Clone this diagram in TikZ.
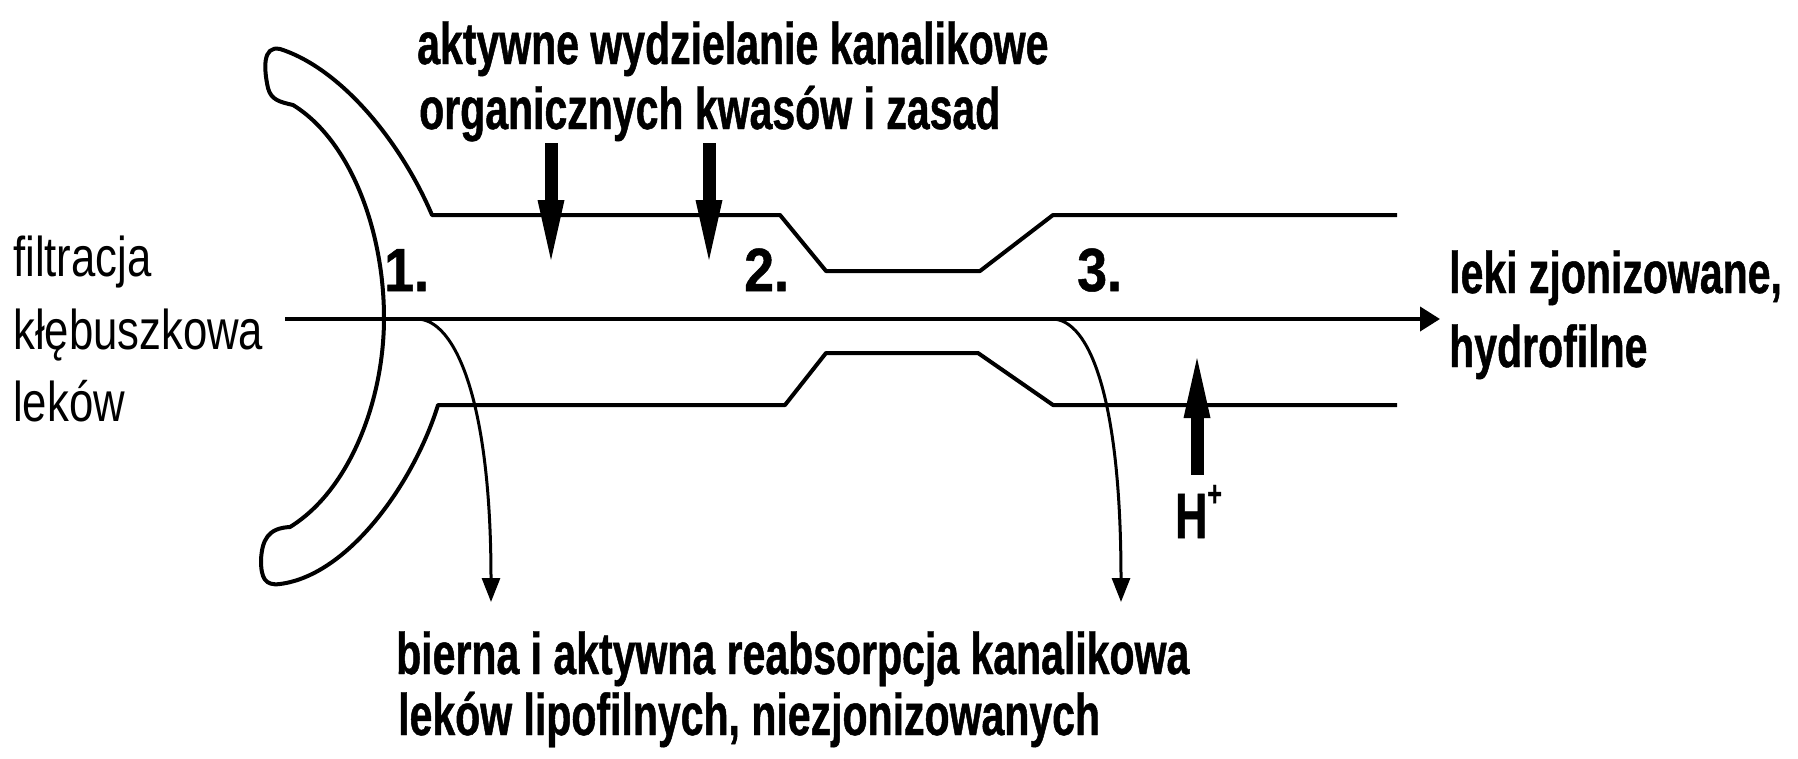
\documentclass[tikz,border=0pt]{standalone}
\usepackage{fontspec}
\setmainfont{Liberation Sans}
\newfontfamily\condbold[FakeStretch=0.695, BoldFeatures={FakeBold=0.8}]{Liberation Sans}
\newfontfamily\condnum[FakeStretch=0.88, BoldFeatures={FakeBold=0.8}]{Liberation Sans}
\newfontfamily\condreg[FakeStretch=0.78]{Liberation Sans}
\usetikzlibrary{arrows.meta}

\tikzset{
  fatarrow/.pic={
    \fill (-6.5,0) rectangle (6.5,58);
    \fill (-13.5,57) -- (13.5,57) -- (0,117) -- cycle;
  }
}

\begin{document}
\begin{tikzpicture}[x=1pt,y=-1pt,
  wall/.style={line width=4pt, line join=round},
  flow/.style={line width=4pt, -{Triangle[length=20pt,width=24pt]}},
  reabs/.style={line width=3pt, -{Triangle[length=24pt,width=18pt]}},
  boldlabel/.style={anchor=base west, inner sep=0pt,
    font=\condbold\bfseries\fontsize{59}{64}\selectfont},
  reglabel/.style={anchor=base west, inner sep=0pt,
    font=\condreg\fontsize{56}{64}\selectfont},
  numlabel/.style={anchor=base west, inner sep=0pt,
    font=\condnum\bfseries\fontsize{61}{61}\selectfont},
]
\useasboundingbox (0,0) rectangle (1798,758);

% Bowman's capsule and tubule walls as one outline
\draw[wall]
  (1397,405) -- (1053,405) -- (978,353) -- (826,353) -- (785,405) -- (438,405)
  .. controls (415,480) and (350,575) .. (280,584)
  .. controls (265,586) and (261,578) .. (261,560)
  .. controls (262,540) and (268,528) .. (290,527)
  .. controls (350,490) and (384,400) .. (384,318)
  .. controls (384,230) and (350,140) .. (293,105)
  .. controls (280,102) and (271,100) .. (268,88)
  .. controls (264,70) and (262,45) .. (280,49)
  .. controls (340,68) and (400,140) .. (432,215)
  -- (780,215) -- (826,271) -- (980,271) -- (1053,215) -- (1397,215);

% main flow through the tubule
\coordinate (flowin) at (285,319);
\coordinate (flowout) at (1440,319);
\draw[flow] (flowin) -- (flowout);

% reabsorption paths
\coordinate (reabs1) at (417,319);
\coordinate (reabs1end) at (491,602);
\coordinate (reabs2) at (1052,319);
\coordinate (reabs2end) at (1121,602);
\draw[reabs] (reabs1) .. controls (455,319) and (491,400) .. (reabs1end);
\draw[reabs] (reabs2) .. controls (1090,319) and (1121,400) .. (reabs2end);

% secretion and proton arrows
\pic (secr1) at (551,143) {fatarrow};
\pic (secr2) at (709,143) {fatarrow};
\pic[rotate=180] (proton) at (1197,475) {fatarrow};

% segment numbers
\node[numlabel] (n1) at (384,291) {1.};
\node[numlabel] (n2) at (744,291) {2.};
\node[numlabel] (n3) at (1077,291) {3.};

% labels
\node[boldlabel] (secrA) at (417,64) {aktywne wydzielanie kanalikowe};
\node[boldlabel] (secrB) at (419,129) {organicznych kwasów i zasad};
\node[reglabel] (filtA) at (13,276) {filtracja};
\node[reglabel] (filtB) at (13,349) {kłębuszkowa};
\node[reglabel] (filtC) at (13,421) {leków};
\node[boldlabel] (outA) at (1449,293) {leki zjonizowane,};
\node[boldlabel] (outB) at (1449,367) {hydrofilne};
\node[boldlabel] (reabsA) at (396,674) {bierna i aktywna reabsorpcja kanalikowa};
\node[boldlabel] (reabsB) at (398,735) {leków lipofilnych, niezjonizowanych};
\node[numlabel, font=\condbold\bfseries\fontsize{64}{64}\selectfont] (hplus) at (1175,538)
  {H\raisebox{32pt}{\fontsize{36}{36}\selectfont +}};
\end{tikzpicture}
\end{document}
